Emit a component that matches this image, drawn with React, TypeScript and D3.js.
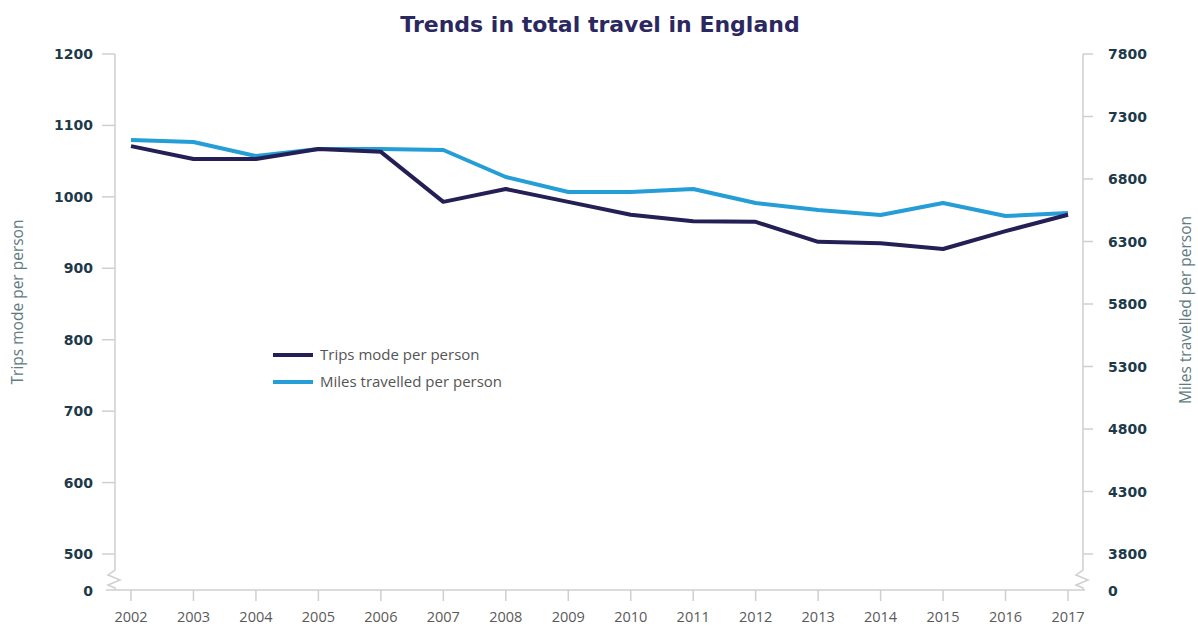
import React from "react";
import * as d3 from "d3";

const years = [2002, 2003, 2004, 2005, 2006, 2007, 2008, 2009, 2010, 2011, 2012, 2013, 2014, 2015, 2016, 2017];
const trips = [1071, 1053, 1053, 1067, 1063, 993, 1011, 993, 975, 966, 965, 937, 935, 927, 952, 975];
const miles = [7112, 7096, 6984, 7040, 7040, 7032, 6816, 6696, 6696, 6720, 6608, 6552, 6512, 6608, 6504, 6528];
const leftTicks = [500, 600, 700, 800, 900, 1000, 1100, 1200];
const rightTicks = [3800, 4300, 4800, 5300, 5800, 6300, 6800, 7300, 7800];

const W = 1198, H = 628;
const xL = 115, xR = 1083, yBase = 590;

export default function App() {
  const x = d3.scaleLinear().domain([2002, 2017]).range([131, 1068]);
  const yL = d3.scaleLinear().domain([500, 1200]).range([554, 54]);
  const yR = d3.scaleLinear().domain([3800, 7800]).range([554, 54]);

  const lineTrips = d3.line<number>().x((_, i) => x(years[i])).y((d) => yL(d));
  const lineMiles = d3.line<number>().x((_, i) => x(years[i])).y((d) => yR(d));

  const zig = (cx: number) =>
    `M${cx},566 L${cx},570 L${cx - 7},575 L${cx + 5},580 L${cx - 7},585 L${cx},588 L${cx},${yBase}`;

  const tickFont = { fontFamily: "'DejaVu Sans', sans-serif", fontWeight: 700, fontSize: 14, fill: "#1d3a4a" };
  const axisCol = "#cfcfcf";
  const lightFont = "'Open Sans', sans-serif";

  return (
    <svg width={W} height={H} style={{ position: "absolute", left: 0, top: 0, background: "#fff" }}>
      <text x={600} y={32} textAnchor="middle" fontFamily="'DejaVu Sans', sans-serif" fontWeight={700} fontSize={22} fill="#2b2760">
        Trends in total travel in England
      </text>

      {/* left axis */}
      <line x1={xL} x2={xL} y1={54} y2={566} stroke={axisCol} strokeWidth={1.5} />
      <path d={zig(xL)} fill="none" stroke={axisCol} strokeWidth={1.5} />
      {leftTicks.map((t) => (
        <g key={t}>
          <line x1={xL - 13} x2={xL} y1={yL(t)} y2={yL(t)} stroke={axisCol} strokeWidth={1.5} />
          <text x={93} y={yL(t) + 5} textAnchor="end" {...tickFont}>{t}</text>
        </g>
      ))}
      <text x={93} y={yBase + 6} textAnchor="end" {...tickFont}>0</text>

      {/* right axis */}
      <line x1={xR} x2={xR} y1={54} y2={566} stroke={axisCol} strokeWidth={1.5} />
      <path d={zig(xR)} fill="none" stroke={axisCol} strokeWidth={1.5} />
      {rightTicks.map((t) => (
        <g key={t}>
          <line x1={xR} x2={xR + 10} y1={yR(t)} y2={yR(t)} stroke={axisCol} strokeWidth={1.5} />
          <text x={1108} y={yR(t) + 5} textAnchor="start" {...tickFont}>{t}</text>
        </g>
      ))}
      <text x={1108} y={yBase + 6} textAnchor="start" {...tickFont}>0</text>

      {/* x axis */}
      <line x1={106} x2={xR + 2} y1={yBase} y2={yBase} stroke={axisCol} strokeWidth={1.5} />
      {years.map((yr) => (
        <g key={yr}>
          <line x1={x(yr)} x2={x(yr)} y1={yBase} y2={yBase + 11} stroke={axisCol} strokeWidth={1.5} />
          <text x={x(yr)} y={yBase + 32} textAnchor="middle" fontFamily={lightFont} fontSize={14.5} fill="#5a5a5a">{yr}</text>
        </g>
      ))}

      {/* axis titles */}
      <text transform="translate(23,302) rotate(-90)" textAnchor="middle" fontFamily={lightFont} fontSize={15.5} fill="#5f7c82">
        Trips mode per person
      </text>
      <text transform="translate(1191,310) rotate(-90)" textAnchor="middle" fontFamily={lightFont} fontSize={15.5} fill="#5f7c82">
        Miles travelled per person
      </text>

      {/* lines */}
      <path d={lineMiles(miles) || ""} fill="none" stroke="#259dd6" strokeWidth={4} strokeLinejoin="round" />
      <path d={lineTrips(trips) || ""} fill="none" stroke="#241f55" strokeWidth={4} strokeLinejoin="round" />

      {/* legend */}
      <line x1={273} x2={313} y1={355} y2={355} stroke="#241f55" strokeWidth={4} />
      <text x={320} y={360} fontFamily={lightFont} fontSize={15} fill="#555">Trips mode per person</text>
      <line x1={273} x2={313} y1={382} y2={382} stroke="#259dd6" strokeWidth={4} />
      <text x={320} y={387} fontFamily={lightFont} fontSize={15} fill="#555">Miles travelled per person</text>
    </svg>
  );
}
